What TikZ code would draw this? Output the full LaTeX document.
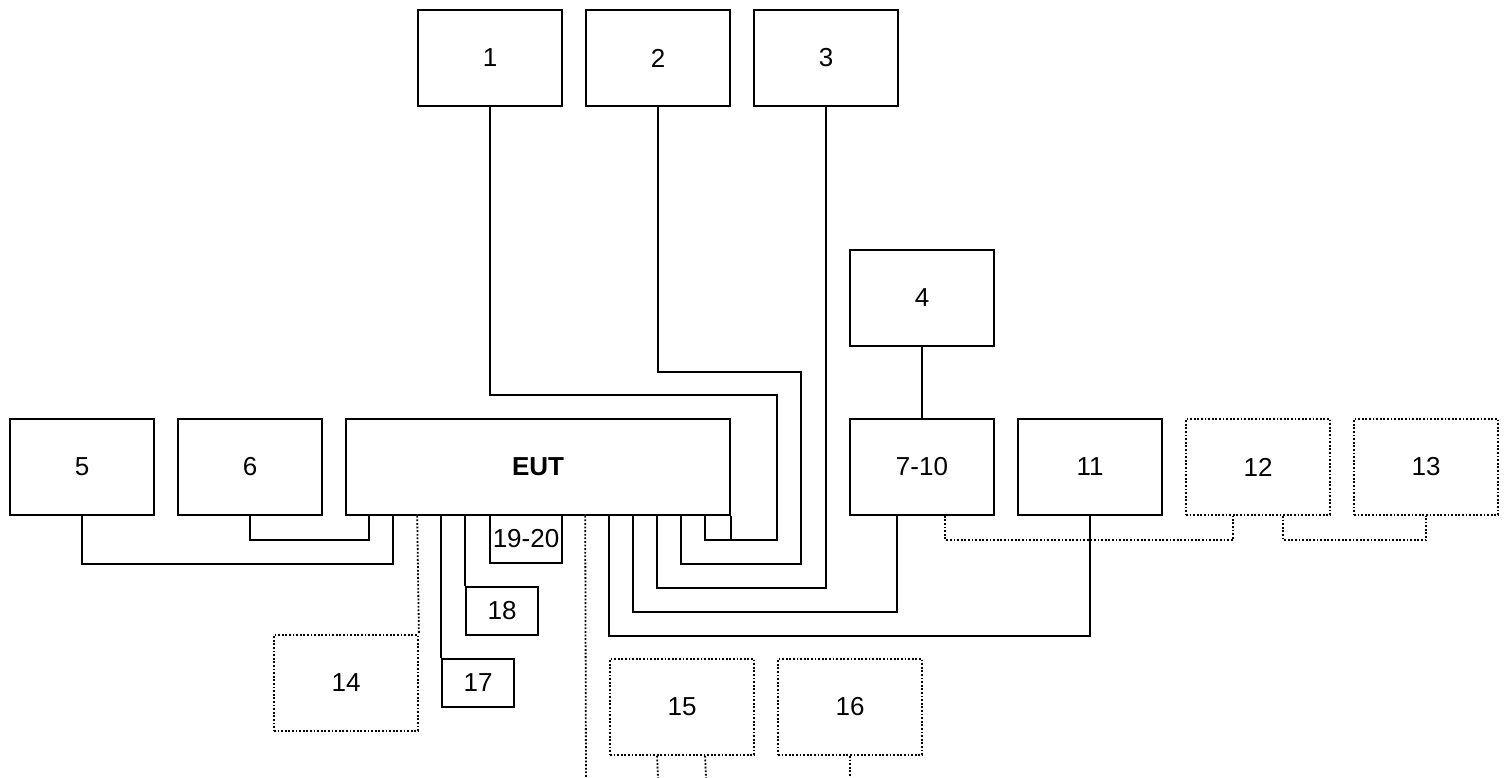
\documentclass[tikz,border=0pt]{standalone}
\usepackage{fontspec}
\setmainfont{Liberation Sans}
\begin{document}
\begin{tikzpicture}[x=1pt,y=-1pt,
  lbl/.style={font=\fontsize{26}{30}\selectfont},
  box/.style={draw,line width=1.6pt,minimum width=144pt,minimum height=96pt,inner sep=0pt,lbl},
  smallbox/.style={box,minimum width=72pt,minimum height=48pt},
  dotstyle/.style={line width=1.8pt,dash pattern=on 1.8pt off 1.8pt},
  optbox/.style={box,dotstyle},
  wire/.style={draw,line width=1.6pt},
  dwire/.style={draw,dotstyle}]
\useasboundingbox (0,0) rectangle (1506,778);
% boxes
\node[box] (b1) at (490,58) {1};
\node[box] (b2) at (658,58) {2};
\node[box] (b3) at (826,58) {3};
\node[box] (b4) at (922,298) {4};
\node[box] (b5) at (82,467) {5};
\node[box] (b6) at (250,467) {6};
\node[box,minimum width=384pt,font=\fontsize{26}{30}\selectfont\bfseries] (eut) at (538,467) {EUT};
\node[box] (b710) at (922,467) {7-10};
\node[box] (b11) at (1090,467) {11};
\node[optbox] (b12) at (1258,467) {12};
\node[optbox] (b13) at (1426,467) {13};
\node[optbox] (b14) at (346,683) {14};
\node[optbox] (b15) at (682,707) {15};
\node[optbox] (b16) at (850,707) {16};
\node[smallbox] (b17) at (478,683) {17};
\node[smallbox] (b18) at (502,611) {18};
\node[smallbox] (b1920) at (526,539) {19-20};
% free ends
\coordinate (e1) at (586,778);
\coordinate (e2) at (658,778);
\coordinate (e3) at (706,778);
\coordinate (e4) at (850,778);
% solid wires
\draw[wire] ([xshift=48pt]eut.south west) -- ++(0,48) -| (b5.south);
\draw[wire] ([xshift=24pt]eut.south west) -- ++(0,24) -| (b6.south);
\draw[wire] ([xshift=96pt]eut.south west) -- (b17.north west);
\draw[wire] ([xshift=120pt]eut.south west) -- (b18.north west);
\draw[wire] ([xshift=264pt]eut.south west) -- ++(0,120) -| (b11.south);
\draw[wire] ([xshift=288pt]eut.south west) -- ++(0,96) -| ([xshift=48pt]b710.south west);
\draw[wire] ([xshift=312pt]eut.south west) -- ++(0,72) -| (b3.south);
\draw[wire] ([xshift=336pt]eut.south west) -- ++(0,48) -- ++(120,0) -- ++(0,-192) -| (b2.south);
\draw[wire] ([xshift=360pt]eut.south west) -- ++(0,24) -- ++(72,0) -- ++(0,-145) -| (b1.south);
\draw[wire] (eut.south east) -- ++(0,24);
\draw[wire] (b4) -- (b710);
% dotted wires
\draw[dwire] ([xshift=72pt]eut.south west) -- (b14.north east);
\draw[dwire] ([xshift=240pt]eut.south west) -- (e1);
\draw[dwire] ([xshift=48pt]b15.south west) -- (e2);
\draw[dwire] ([xshift=96pt]b15.south west) -- (e3);
\draw[dwire] (b16.south) -- (e4);
\draw[dwire] ([xshift=96pt]b710.south west) -- ++(0,24) -| ([xshift=48pt]b12.south west);
\draw[dwire] ([xshift=-48pt]b12.south east) -- ++(0,24) -| (b13.south);
\end{tikzpicture}
\end{document}
